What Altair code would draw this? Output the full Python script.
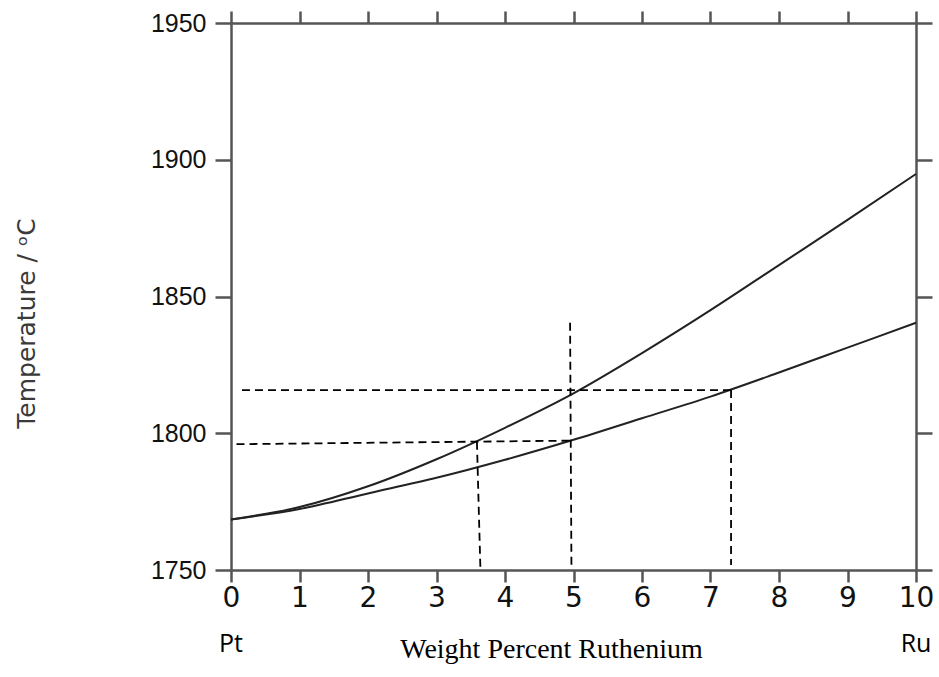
import altair as alt
import pandas as pd

# ---- data ----
wt_percent = [0, 1, 2, 3, 4, 5, 6, 7, 8, 9, 10]
liquidus = [1768.5, 1773.0, 1780.6, 1790.5, 1802.0, 1814.6, 1829.3, 1845.0, 1861.5, 1878.0, 1894.8]
solidus = [1768.5, 1772.3, 1778.0, 1783.7, 1790.3, 1797.6, 1805.5, 1813.4, 1822.2, 1831.3, 1840.4]

guide_ids = ["h1", "h1", "h2", "h2", "v1", "v1", "v2", "v2", "v3", "v3"]
guide_x = [0.08, 4.96, 0.16, 7.30, 3.59, 3.64, 4.95, 4.97, 7.30, 7.30]
guide_t = [1796.0, 1797.3, 1815.8, 1815.8, 1796.9, 1751.2, 1840.4, 1751.1, 1815.8, 1751.8]

end_labels = ["Pt", "Ru"]
end_x = [0, 10]

x_ticks = list(range(0, 11))
y_ticks = [1750, 1800, 1850, 1900, 1950]

curves = pd.DataFrame({
    "wt": wt_percent * 2,
    "T": liquidus + solidus,
    "curve": ["liquidus"] * len(wt_percent) + ["solidus"] * len(wt_percent),
})
guides = pd.DataFrame({"g": guide_ids, "wt": guide_x, "T": guide_t})
ends = pd.DataFrame({"label": end_labels, "wt": end_x})

AX = "#555555"
xscale = alt.Scale(domain=[0, 10], nice=False, zero=False)
yscale = alt.Scale(domain=[1750, 1950], nice=False, zero=False)

curve_layer = alt.Chart(curves).mark_line(
    color="#222222", strokeWidth=2, interpolate="monotone"
).encode(
    x=alt.X("wt:Q", scale=xscale, axis=alt.Axis(
        orient="bottom", values=x_ticks, format="d", grid=False,
        tickSize=12, tickWidth=2.5, tickColor=AX, domainColor=AX, domainWidth=2.5,
        labelFont="DejaVu Sans", labelFontSize=28, labelColor="#111111", labelPadding=2,
        labelFlush=False,
        title="Weight Percent Ruthenium", titleFont="Liberation Serif", titleFontSize=28,
        titleFontWeight="normal", titleColor="#000000", titleX=320, titleY=87,
        titleAlign="center", titleBaseline="alphabetic",
    )),
    y=alt.Y("T:Q", scale=yscale, axis=alt.Axis(
        orient="left", values=y_ticks, format="d", grid=False,
        tickSize=16, tickWidth=2.5, tickColor=AX, domainColor=AX, domainWidth=2.5,
        labelFont="Liberation Sans", labelFontSize=25, labelColor="#111111",
        labelPadding=9, labelFlush=False,
        title="Temperature / ᵒC", titleFont="DejaVu Sans", titleFontSize=25,
        titleFontWeight="normal", titleColor="#3a3a3a", titleAngle=270,
        titleX=-205, titleY=300, titleAlign="center", titleBaseline="middle",
    )),
    detail="curve:N",
)

guide_layer = alt.Chart(guides).mark_line(
    color="#000000", strokeWidth=1.8, strokeDash=[8, 5]
).encode(
    x=alt.X("wt:Q", scale=xscale, axis=alt.Axis(
        orient="top", values=x_ticks, labels=False, grid=False, title=None,
        tickSize=12, tickWidth=2.5, tickColor=AX, domainColor=AX, domainWidth=2.5,
    )),
    y=alt.Y("T:Q", scale=yscale, axis=alt.Axis(
        orient="right", values=y_ticks, labels=False, grid=False, title=None,
        tickSize=16, tickWidth=2.5, tickColor=AX, domainColor=AX, domainWidth=2.5,
    )),
    detail="g:N",
)

end_layer = alt.Chart(ends).mark_text(
    font="Open Sans", fontSize=25, color="#000000", align="center", baseline="alphabetic"
).encode(
    x=alt.X("wt:Q", scale=xscale, axis=None),
    y=alt.value(629),
    text="label:N",
)

chart = alt.layer(curve_layer, guide_layer, end_layer).resolve_axis(
    x="independent", y="independent"
).properties(
    width=685, height=547,
    autosize=alt.AutoSizeParams(type="none"),
    padding={"left": 231, "top": 23, "right": 23, "bottom": 107},
    background="#ffffff",
).configure_view(stroke=None)

chart.save("out.html", embed_options={"renderer": "svg", "actions": False})
